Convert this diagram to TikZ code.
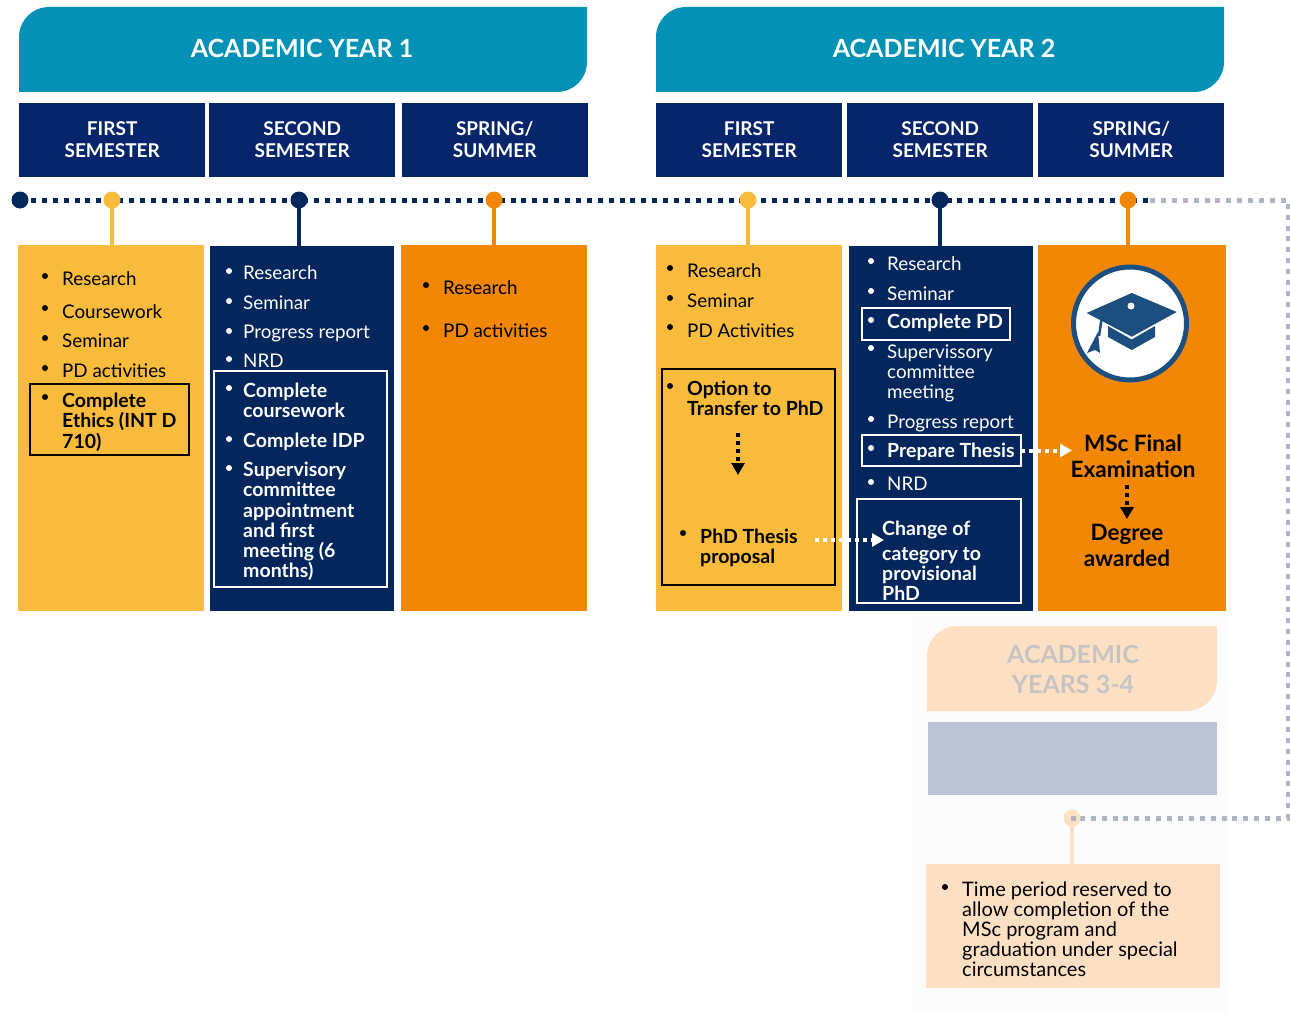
\documentclass[tikz,border=0pt]{standalone}
\usepackage{fontspec}
\setmainfont{Lato}
\usetikzlibrary{arrows.meta}
\definecolor{tabteal}{HTML}{0392B5}
\definecolor{navy}{HTML}{03275C}
\definecolor{headnavy}{HTML}{07256A}
\definecolor{gold}{HTML}{F9BB3B}
\definecolor{amber}{HTML}{F28705}
\definecolor{peach}{HTML}{FDE0C4}
\definecolor{slate}{HTML}{BBC3D5}
\definecolor{linegray}{HTML}{AEB6C6}
\definecolor{capblue}{HTML}{1C4F80}
\definecolor{fadetext}{HTML}{C6C4C2}
\tikzset{
  panel/.style={anchor=north west, inner sep=0, minimum width=#1},
  head/.style={panel=186, minimum height=74, fill=headnavy},
  headtxt/.style={text=white, align=center, inner sep=0, font=\fontsize{19}{22}\selectfont\bfseries},
  tabtxt/.style={text=white, inner sep=0, font=\fontsize{25}{25}\selectfont\bfseries},
  itemtxt/.style={anchor=north west, inner sep=0, align=left, font=\fontsize{18.8}{20}\selectfont, execute at begin node=\strut},
  itembold/.style={itemtxt, font=\fontsize{19.5}{20.2}\selectfont\bfseries},
  bigtxt/.style={inner sep=0, align=center, font=\fontsize{22.5}{26}\selectfont\bfseries},
  boxk/.style={anchor=north west, inner sep=0, outer sep=0, draw=black, line width=2},
  boxw/.style={anchor=north west, inner sep=0, outer sep=0, draw=white, line width=2},
  timeline/.style={line width=5, dash pattern=on 5pt off 5.9pt},
  stem/.style={line width=3.5},
  dotw/.style={draw=white, line width=4, dash pattern=on 4pt off 4pt, -{Triangle[length=12,width=13,fill=white]}},
  dotk/.style={draw=black, line width=4, dash pattern=on 4pt off 4pt, -{Triangle[length=12,width=13,fill=black]}}
}
\begin{document}
\begin{tikzpicture}[x=1pt,y=-1pt]
\useasboundingbox (0,0) rectangle (1290,1014);
\fill[white] (0,0) rectangle (1290,1014);
\fill[white!98!gray] (912,612) rectangle (1228,1014);

% year tabs
\fill[tabteal] (19,92) [rounded corners=30] -- (19,7) [sharp corners] -- (587,7) [rounded corners=30] -- (587,92) [sharp corners] -- cycle;
\fill[tabteal] (656,92) [rounded corners=30] -- (656,7) [sharp corners] -- (1224,7) [rounded corners=30] -- (1224,92) [sharp corners] -- cycle;
\fill[peach] (927,711) [rounded corners=30] -- (927,626) [sharp corners] -- (1217,626) [rounded corners=30] -- (1217,711) [sharp corners] -- cycle;
\node[tabtxt] (year1) at (302,48) {ACADEMIC YEAR 1};
\node[tabtxt] (year2) at (944,48) {ACADEMIC YEAR 2};
\node[tabtxt, text=fadetext, align=center, font=\fontsize{25}{30}\selectfont\bfseries] (year3) at (1073,669) {ACADEMIC\\YEARS 3-4};

% semester heads
\foreach \n/\x/\txt in {h1/19/{FIRST\\SEMESTER}, h2/209/{SECOND\\SEMESTER}, h3/401.5/{SPRING/\\SUMMER},
                        h4/656/{FIRST\\SEMESTER}, h5/847/{SECOND\\SEMESTER}, h6/1038/{SPRING/\\SUMMER}} {
  \node[head] (\n) at (\x,103) {};
  \node[headtxt, yshift=1] at (\n.center) {\txt};
}
\node[panel=289, minimum height=73, fill=slate] (h7) at (928,722) {};

% panels
\node[panel=186, minimum height=365.5, fill=gold] (p1) at (18,245) {};
\node[panel=184, minimum height=364.5, fill=navy] (p2) at (210,246) {};
\node[panel=186, minimum height=365.5, fill=amber] (p3) at (401,245) {};
\node[panel=186, minimum height=365.5, fill=gold] (p4) at (656,245) {};
\node[panel=184, minimum height=364.5, fill=navy] (p5) at (849,246) {};
\node[panel=188, minimum height=365.5, fill=amber] (p6) at (1038,245) {};
\node[panel=294, minimum height=124, fill=peach] (p7) at (926,864) {};

% timeline
\coordinate (start) at (20,200);
\coordinate (d1) at (112,200);
\coordinate (d2) at (299,200);
\coordinate (d3) at (494,200);
\coordinate (d4) at (748,200);
\coordinate (d5) at (940,200);
\coordinate (d6) at (1128,200);
\coordinate (d7) at (1072,818);
\coordinate (split) at (1150,200);
\coordinate (far) at (1288,200);
\coordinate (low) at (1288,818);
\draw[timeline, linegray] (split) -- (far) -- (low) -- (d7);
\draw[timeline, navy] (start) -- (split);
\foreach \d/\p/\c in {d1/p1/gold, d2/p2/navy, d3/p3/amber, d4/p4/gold, d5/p5/navy, d6/p6/amber} {
  \draw[stem, \c] (\d) -- (\d |- \p.north);
  \fill[\c] (\d) circle (8.5);
}
\fill[navy] (start) circle (8.5);
\draw[stem, peach] (d7) -- (d7 |- p7.north);
\fill[peach] (d7) circle (8.5);
\fill[linegray] (1070.5,815.5) rectangle (1075.5,820.5);

% boxes
\node[boxk, minimum width=159, minimum height=71] (bx1) at (30,384) {};
\node[boxw, minimum width=173, minimum height=216] (bx2) at (214,371) {};
\node[boxk, minimum width=173, minimum height=216] (bx4) at (662,369) {};
\node[boxw, minimum width=148, minimum height=32] (bx5) at (862,308) {};
\node[boxw, minimum width=159, minimum height=31] (bx6) at (862,435) {};
\node[boxw, minimum width=164, minimum height=104] (bx7) at (857,499) {};

% first year
\foreach \n/\y/\txt in {a1/271/Research, a2/304/Coursework, a3/333/Seminar, a4/363/PD activities}
  \node[itemtxt] (\n) at (62,\y) {\txt};
\node[itembold] (a5) at (62,393) {Complete\\Ethics (INT D\\710)};
\foreach \y in {276,308,338,368,397}
  \fill[black] (45,\y) circle (3);

\foreach \n/\y/\txt in {b1/265/Research, b2/295/Seminar, b3/324/Progress report, b4/353/NRD}
  \node[itemtxt, text=white] (\n) at (243,\y) {\txt};
\node[itembold, text=white] (b5) at (243,383) {Complete\\coursework};
\node[itembold, text=white] (b6) at (243,433) {Complete IDP};
\node[itembold, text=white] (b7) at (243,462) {Supervisory\\committee\\appointment\\and first\\meeting (6\\months)};
\foreach \y in {271,301,331,359,388,439,468}
  \fill[white] (229,\y) circle (3);

\node[itemtxt] (c1) at (443,280) {Research};
\node[itemtxt] (c2) at (443,323) {PD activities};
\foreach \y in {285,328}
  \fill[black] (426,\y) circle (3);

% second year
\foreach \n/\y/\txt in {e1/263/Research, e2/293/Seminar, e3/323/PD Activities}
  \node[itemtxt] (\n) at (687,\y) {\txt};
\node[itembold] (e4) at (687,381) {Option to\\Transfer to PhD};
\node[itembold] (e5) at (700,529) {PhD Thesis\\proposal};
\foreach \x/\y in {670/268, 670/298, 670/327, 670/386, 683/533}
  \fill[black] (\x,\y) circle (3);

\foreach \n/\y/\txt in {f1/256/Research, f2/286/Seminar, f4/345/{Supervissory\\committee\\meeting}, f5/414/Progress report, f7/476/NRD}
  \node[itemtxt, text=white] (\n) at (887,\y) {\txt};
\node[itembold, text=white] (f3) at (887,314) {Complete PD};
\node[itembold, text=white] (f6) at (887,443) {Prepare Thesis};
\node[itembold, text=white] (f8) at (882,521) {Change of};
\node[itembold, text=white] (f9) at (882,547) {category to\\provisional\\PhD};
\foreach \y in {261,291,320,348,419,448,482}
  \fill[white] (871,\y) circle (3);

% final column
\node[bigtxt] (msc) at (1133,456) {MSc Final\\Examination};
\node[bigtxt] (deg) at (1127,545) {Degree\\awarded};
\draw[line width=5, capblue, fill=white] (1130,323.5) circle (56.5);
\fill[capblue] (1131.7,293) -- (1176.7,312) -- (1131.7,336.7) -- (1086.7,313) -- cycle;
\fill[capblue] (1108,326) -- (1131.7,339.5) -- (1155,326) -- (1155,337) -- (1131.7,350) -- (1108,337) -- cycle;
\fill[white] (1131,306) circle (3.5);
\draw[capblue, line width=2.5] (1102,316) -- (1099,336);
\fill[capblue] (1098,332) -- (1100,353) -- (1095,350) -- (1087,353) -- cycle;

% arrows
\coordinate (out1) at (815,540);
\coordinate (in1) at (884,540);
\coordinate (in2) at (1072,450.5);
\coordinate (top1) at (738,433);
\coordinate (end1) at (738,475);
\coordinate (top2) at (1127,485);
\coordinate (end2) at (1127,519);
\draw[dotw] (out1) -- (in1);
\draw[dotw] (bx6.east) -- (in2);
\draw[dotk] (top1) -- (end1);
\draw[dotk] (top2) -- (end2);

% last panel
\node[itemtxt, font=\fontsize{20}{20}\selectfont] (g1) at (962,882) {Time period reserved to\\allow completion of the\\MSc program and\\graduation under special\\circumstances};
\fill[black] (945,887) circle (3);
\end{tikzpicture}
\end{document}
